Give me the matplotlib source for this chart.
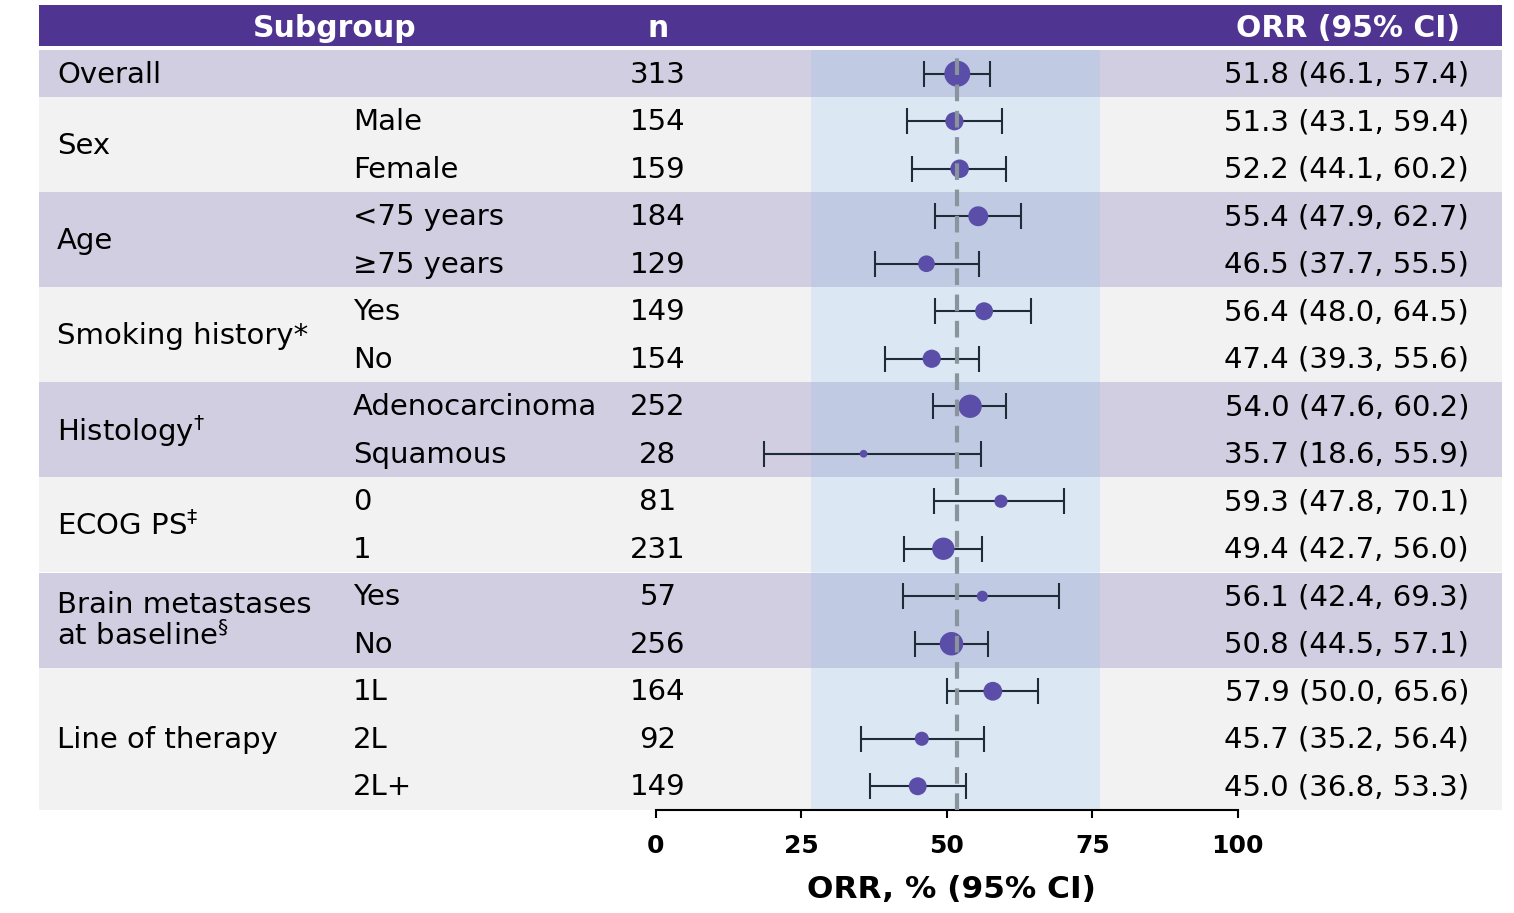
import numpy as np
import matplotlib.pyplot as plt
from matplotlib.patches import Rectangle

plt.rcParams['font.family'] = ['DejaVu Sans']
plt.rcParams['mathtext.default'] = 'regular'

# subgroup table
groups = ["Overall", "Sex", "Age", "Smoking history*", "Histology$^{†}$",
          "ECOG PS$^{‡}$", "Brain metastases\nat baseline$^{§}$", "Line of therapy"]
group_sizes = [1, 2, 2, 2, 2, 2, 2, 3]
subgroups = ["", "Male", "Female", "<75 years", "≥75 years", "Yes", "No",
             "Adenocarcinoma", "Squamous", "0", "1", "Yes", "No", "1L", "2L", "2L+"]
n = [313, 154, 159, 184, 129, 149, 154, 252, 28, 81, 231, 57, 256, 164, 92, 149]
orr = [51.8, 51.3, 52.2, 55.4, 46.5, 56.4, 47.4, 54.0, 35.7, 59.3, 49.4, 56.1, 50.8, 57.9, 45.7, 45.0]
ci_lo = [46.1, 43.1, 44.1, 47.9, 37.7, 48.0, 39.3, 47.6, 18.6, 47.8, 42.7, 42.4, 44.5, 50.0, 35.2, 36.8]
ci_hi = [57.4, 59.4, 60.2, 62.7, 55.5, 64.5, 55.6, 60.2, 55.9, 70.1, 56.0, 69.3, 57.1, 65.6, 56.4, 53.3]
band = (26.6, 76.3)
xticks = [0, 25, 50, 75, 100]

PURPLE = "#4f3591"
LAVENDER = "#d0cee0"
GREY = "#f2f2f2"
DOT = "#5b4ea8"
BAR = "#1f2b38"

W, H = 1514, 913
fig = plt.figure(figsize=(W / 100, H / 100), dpi=100)
# table area in pixels: x 39..1502, y 50..810
ax = fig.add_axes([39 / W, (H - 810) / H, 1463 / W, 760 / H])
ax.set_xlim(-106.0, 145.4)
ax.set_ylim(len(n) - 0.5, -0.5)
ax.set_facecolor("white")

# row shading per group
start = 0
for gi, size in enumerate(group_sizes):
    ax.axhspan(start - 0.5, start + size - 0.5, color=LAVENDER if gi % 2 == 0 else GREY,
               lw=0, zorder=0)
    start += size

ax.axvspan(band[0], band[1], color="#89c2f2", alpha=0.21, lw=0, zorder=1)

rows = np.arange(len(n))
ax.errorbar(orr, rows, xerr=[np.array(orr) - np.array(ci_lo), np.array(ci_hi) - np.array(orr)],
            fmt="none", ecolor=BAR, elinewidth=1.5, capsize=9.5, capthick=1.5, zorder=3)
ax.scatter(orr, rows, s=np.array(n) * 1.12, color=DOT, lw=0, zorder=4)
ax.axvline(orr[0], color="#8a949c", lw=3, dashes=(4, 2.3), zorder=5)

# text columns
tr = ax.get_yaxis_transform()
fs = 21
start = 0
for g, size in zip(groups, group_sizes):
    ax.text(0.0123, start + (size - 1) / 2 + 0.02, g, transform=tr, ha="left", va="center",
            fontsize=fs, linespacing=1.12)
    start += size
for i in rows:
    ax.text(0.2146, i + 0.02, subgroups[i], transform=tr, ha="left", va="center", fontsize=fs)
    ax.text(0.423, i + 0.02, str(n[i]), transform=tr, ha="center", va="center", fontsize=fs)
    ax.text(0.9775, i + 0.02, f"{orr[i]:.1f} ({ci_lo[i]:.1f}, {ci_hi[i]:.1f})", transform=tr,
            ha="right", va="center", fontsize=fs)

# header bar
ax.add_patch(Rectangle((0, -1.44), 1, 0.85, transform=tr, color=PURPLE, lw=0,
                       clip_on=False, zorder=2))
for x, label, ha in [(0.2023, "Subgroup", "center"), (0.423, "n", "center"),
                     (0.9713, "ORR (95% CI)", "right")]:
    ax.text(x, -0.96, label, transform=tr, ha=ha, va="center", color="white",
            fontsize=21.5, fontweight="bold", clip_on=False, zorder=3)

# ORR axis
for side in ["top", "left", "right"]:
    ax.spines[side].set_visible(False)
ax.spines["bottom"].set_bounds(0, 100)
ax.spines["bottom"].set_linewidth(1.5)
ax.set_xticks(xticks)
ax.tick_params(axis="x", direction="out", length=5.5, width=1.5, pad=12, labelsize=18)
for t in ax.get_xticklabels():
    t.set_fontweight("bold")
ax.set_yticks([])
ax.set_xlabel("ORR, % (95% CI)", fontsize=22.5, fontweight="bold")
ax.xaxis.set_label_coords(0.624, -0.086)
ax.xaxis.label.set_va("top")

fig.savefig("out.png", dpi=100)
